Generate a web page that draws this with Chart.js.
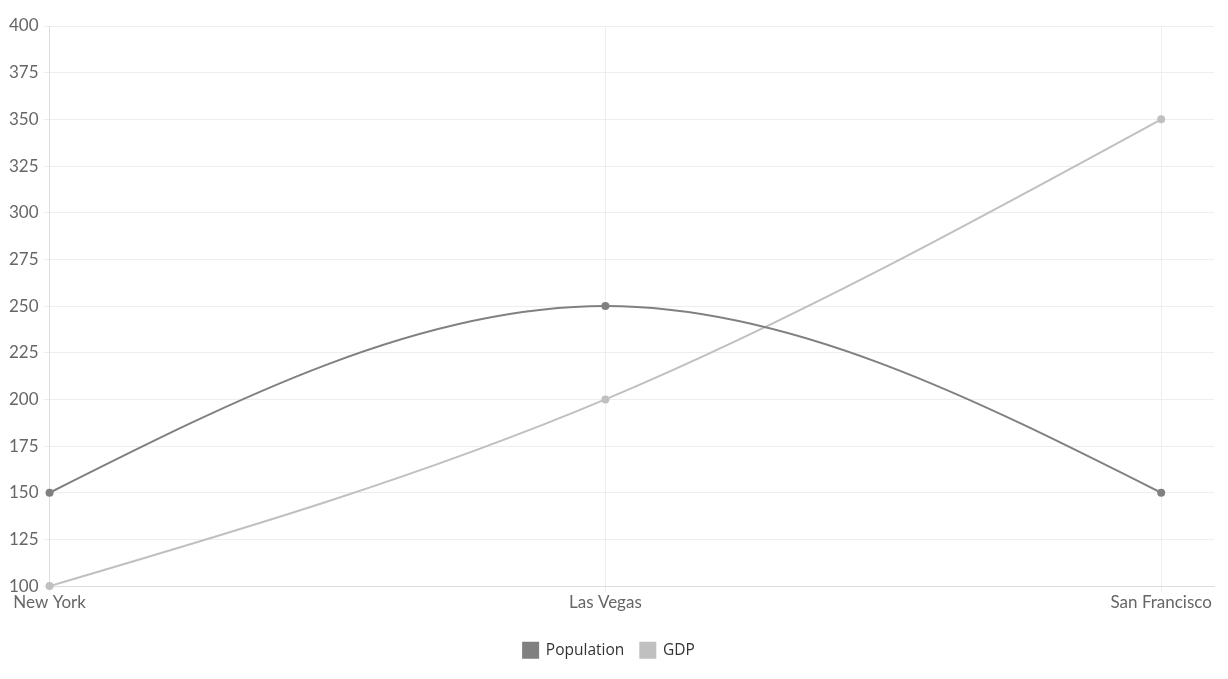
<!DOCTYPE html>
<html>
<head>
<meta charset="utf-8">
<script src="https://cdn.jsdelivr.net/npm/chart.js@4/dist/chart.umd.min.js"></script>
<style>
    html, body { margin: 0; padding: 0; background: #fff; }
    #wrap { width: 1228px; height: 679px; }
</style>
</head>
<body>
<div id="wrap"><canvas id="cityChart" width="1228" height="679"></canvas></div>
<script>
// Данные графика
const cities = ['New York', 'Las Vegas', 'San Francisco'];
const population = [150, 250, 150];
const gdp = [100, 200, 350];
const yTicks = [100, 125, 150, 175, 200, 225, 250, 275, 300, 325, 350, 375, 400];

const toPoints = arr => arr.map((v, i) => ({ x: i, y: v }));

// Натуральный кубический сплайн: пересчитываем контрольные точки безье
// по пиксельным координатам точек, которые уже посчитали шкалы
const naturalSpline = {
    id: 'naturalSpline',
    beforeDatasetDraw(chart, args) {
        const meta = args.meta;
        const pts = meta.data;
        const n = pts.length;
        if (n < 3) return;
        const h = [], d = [];
        for (let i = 0; i < n - 1; i++) {
            h.push(pts[i + 1].x - pts[i].x);
            d.push((pts[i + 1].y - pts[i].y) / h[i]);
        }
        // трёхдиагональная система для наклонов
        const a = [], b = [], c = [], r = [];
        for (let i = 0; i < n; i++) {
            if (i === 0) {
                a.push(0); b.push(2); c.push(1); r.push(3 * d[0]);
            } else if (i === n - 1) {
                a.push(1); b.push(2); c.push(0); r.push(3 * d[n - 2]);
            } else {
                a.push(h[i]); b.push(2 * (h[i - 1] + h[i])); c.push(h[i - 1]);
                r.push(3 * (h[i] * d[i - 1] + h[i - 1] * d[i]));
            }
        }
        for (let i = 1; i < n; i++) {
            const w = a[i] / b[i - 1];
            b[i] -= w * c[i - 1];
            r[i] -= w * r[i - 1];
        }
        const m = new Array(n);
        m[n - 1] = r[n - 1] / b[n - 1];
        for (let i = n - 2; i >= 0; i--) m[i] = (r[i] - c[i] * m[i + 1]) / b[i];

        for (let i = 0; i < n; i++) {
            const p = pts[i];
            const hPrev = i > 0 ? h[i - 1] : 0;
            const hNext = i < n - 1 ? h[i] : 0;
            p.cp1x = p.x - hPrev / 3;
            p.cp1y = p.y - m[i] * hPrev / 3;
            p.cp2x = p.x + hNext / 3;
            p.cp2y = p.y + m[i] * hNext / 3;
        }
        meta.dataset._pointsUpdated = true;
    }
};

const ctx = document.getElementById('cityChart').getContext('2d');

new Chart(ctx, {
    type: 'line',
    data: {
        datasets: [{
            label: 'Population',
            data: toPoints(population),
            borderColor: '#808080',
            backgroundColor: '#808080',
            pointBackgroundColor: '#808080',
            pointBorderColor: '#808080',
            borderWidth: 2,
            pointRadius: 3,
            tension: 0.4,
            clip: false,
            fill: false
        }, {
            label: 'GDP',
            data: toPoints(gdp),
            borderColor: '#c0c0c0',
            backgroundColor: '#c0c0c0',
            pointBackgroundColor: '#c0c0c0',
            pointBorderColor: '#c0c0c0',
            borderWidth: 2,
            pointRadius: 3,
            tension: 0.4,
            clip: false,
            fill: false
        }]
    },
    plugins: [naturalSpline],
    options: {
        responsive: false,
        animation: false,
        layout: { padding: { top: 26, right: 14, left: 4, bottom: 11 } },
        plugins: {
            tooltip: { enabled: false },
            legend: {
                position: 'bottom',
                labels: {
                    color: '#333',
                    boxWidth: 15,
                    boxHeight: 15,
                    padding: 16,
                    font: { family: 'Open Sans', size: 15.5 }
                }
            }
        },
        scales: {
            x: {
                type: 'linear',
                min: 0,
                max: 2.095,
                afterBuildTicks: scale => {
                    scale.ticks = cities.map((c, i) => ({ value: i }));
                },
                afterFit: scale => { scale.height += 14; },
                grid: { color: '#eeeeee', tickLength: 6 },
                border: { color: '#dddddd' },
                ticks: {
                    color: '#666',
                    padding: 0,
                    maxRotation: 0,
                    font: { family: 'Lato', size: 17 },
                    callback: v => cities[v]
                }
            },
            y: {
                min: 100,
                max: 400,
                afterBuildTicks: scale => {
                    scale.ticks = yTicks.map(v => ({ value: v }));
                },
                grid: { color: '#eeeeee', tickLength: 6 },
                border: { color: '#dddddd' },
                ticks: {
                    color: '#666',
                    padding: 5,
                    font: { family: 'Lato', size: 17 }
                }
            }
        }
    }
});
</script>
</body>
</html>
